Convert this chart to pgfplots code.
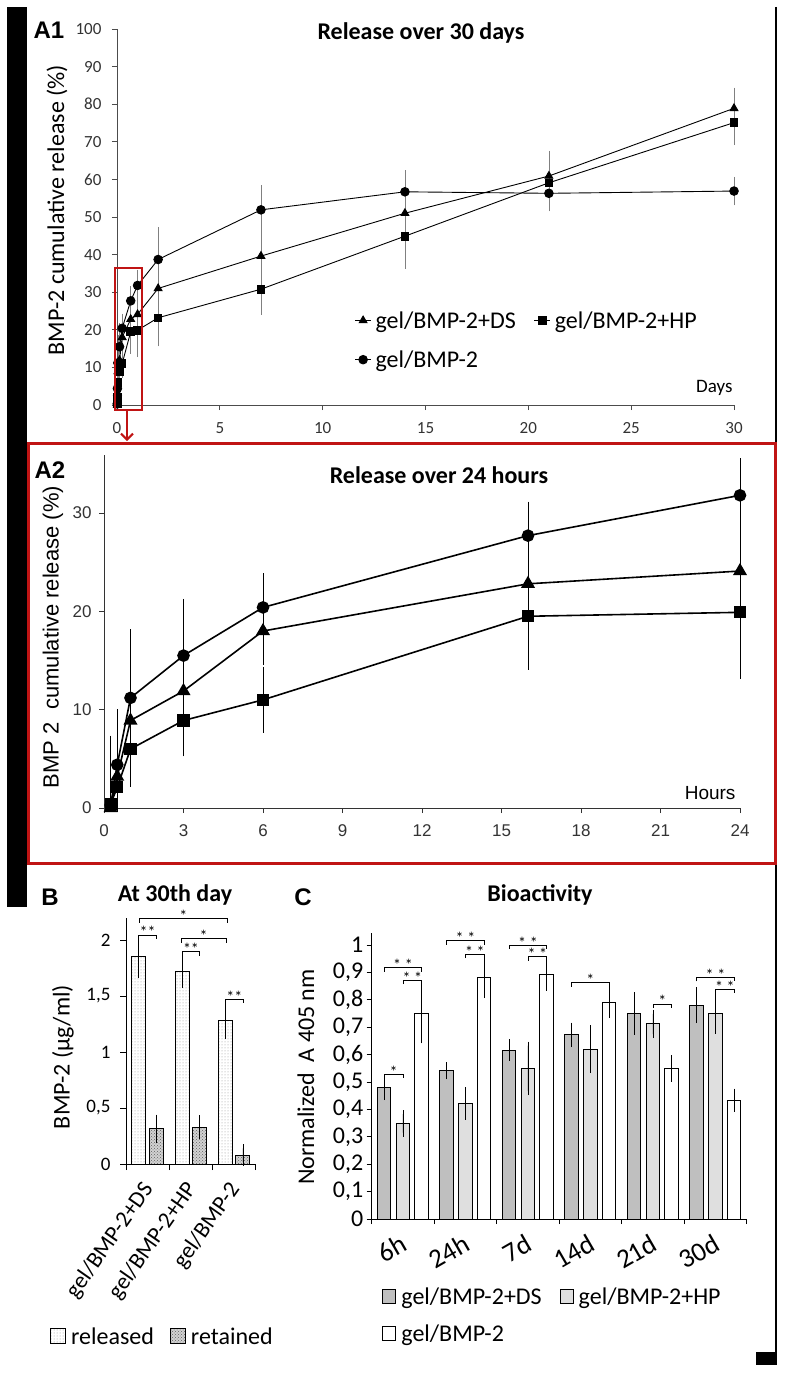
\documentclass[border=0pt]{standalone}
\usepackage{pgfplots}
\pgfplotsset{compat=1.18}
\usepackage{fontspec}
\setmainfont{Carlito}
\newfontfamily\arialf{Liberation Sans}
\usetikzlibrary{arrows.meta,calc,patterns}
\newcommand{\fs}[1]{\fontsize{#1}{#1}\selectfont}
\newcommand{\brk}[4]{%
  \draw[black, line width=0.9pt] ([yshift=-4pt]axis cs:#1,#3) -- (axis cs:#1,#3) -- (axis cs:#2,#3) -- ([yshift=-4pt]axis cs:#2,#3);
  \node[font=\fs{16}, inner sep=0pt, anchor=base, yshift=-3pt] at ($(axis cs:#1,#3)!0.5!(axis cs:#2,#3)$) {#4};}
\definecolor{frred}{RGB}{192,20,20}
\tikzset{
  relfill/.style={fill=white, postaction={pattern=dots, pattern color=gray!85}},
  retfill/.style={fill=gray!35, postaction={pattern=crosshatch dots, pattern color=gray!75!black}},
}
\begin{document}
\begin{tikzpicture}
\useasboundingbox (0pt,0pt) rectangle (784pt,-1378pt);
% frame decorations
\fill[black] (7pt,-7pt) rectangle (27pt,-907pt);
\draw[black, line width=2pt] (776pt,-7pt) -- (776pt,-1353pt);
\fill[black] (756pt,-1352pt) rectangle (777pt,-1365pt);

% ---------------- A1 ----------------
\begin{axis}[
  at={(117pt,-405pt)}, anchor=south west, scale only axis,
  width=617pt, height=376pt,
  xmin=0, xmax=30, ymin=0, ymax=100,
  axis x line*=bottom, axis y line*=left,
  axis line style={-, black!70, line width=0.8pt},
  tick align=outside, major tick length=5pt,
  tick style={black!70, line width=0.8pt},
  xtick={0,5,10,15,20,25,30}, xticklabels={0,5,10,15,20,25,30},
  ytick={0,10,20,30,40,50,60,70,80,90,100},
  yticklabels={0,10,20,30,40,50,60,70,80,90,100},
  tick label style={font=\fs{17}, text=black!80},
  xticklabel style={yshift=-9pt}, yticklabel style={xshift=-7pt},
  clip=false,
  legend style={at={(0.38,0.26)}, anchor=north west, draw=none, fill=none,
    font=\fs{24}, legend columns=2, legend cell align=left,
    /tikz/every odd column/.append style={column sep=2pt},
    /tikz/every even column/.append style={column sep=16pt}, row sep=17pt},
  legend image code/.code={\draw[mark repeat=2,mark phase=2,#1] plot coordinates {(0pt,0pt) (8pt,0pt) (16pt,0pt)};},
  every axis plot/.append style={black, line width=0.9pt, mark options={solid},
    error bars/y dir=both, error bars/y explicit,
    error bars/error bar style={gray, line width=0.7pt},
    error bars/error mark options={gray, line width=0.7pt, mark size=3pt}},
]
\addplot[mark=triangle*, mark size=4.5pt] table[x=x,y=y,y error plus=ep,y error minus=em] {
x y ep em
0.0104 0 3.8 0
0.0208 3.2 2.4 2.4
0.0417 8.9 6.4 6.4
0.125 11.9 4.4 4.4
0.25 18.0 3.1 3.1
0.667 22.8 2.0 2.0
1 24.1 5.4 5.4
2 31.0 6 6
7 39.6 6.4 6.4
14 51.0 4 4
21 60.9 5.9 5.9
30 78.9 4.7 4.7
};
\addlegendentry{gel/BMP-2+DS}
\addplot[mark=square*, mark size=3.8pt] table[x=x,y=y,y error plus=ep,y error minus=em] {
x y ep em
0.0104 0.4 2.2 0.4
0.0208 2.1 1.5 1.5
0.0417 6.0 1.3 1.3
0.125 8.9 3.3 3.3
0.25 11.0 3.0 3.0
0.667 19.5 5.1 5.1
1 19.9 6.4 6.4
2 23.2 6.8 6.8
7 30.8 6.0 6.0
14 44.9 7.9 7.9
21 59.1 4 4
30 75.1 5.2 5.2
};
\addlegendentry{gel/BMP-2+HP}
\addplot[mark=*, mark size=4.3pt] table[x=x,y=y,y error plus=ep,y error minus=em] {
x y ep em
0.0104 0.3 6.7 0.3
0.0208 4.4 5.3 4.4
0.0417 11.2 6.6 6.6
0.125 15.5 5.4 5.4
0.25 20.4 3.1 3.1
0.667 27.7 3.1 3.1
1 31.8 3.4 3.4
2 38.7 7.8 7.8
7 51.9 5.7 5.7
14 56.7 4.9 4.9
21 56.3 4 4
30 56.9 3 3
};
\addlegendentry{gel/BMP-2}
\end{axis}
\node[font=\arialf\bfseries\fs{24}] at (49pt,-30pt) {A1};
\node[font=\bfseries\fs{24}] at (421pt,-33pt) {Release over 30 days};
\node[font=\fs{24}, rotate=90] at (57pt,-210pt) {BMP-2 cumulative release (\%)};
\node[font=\fs{19}, anchor=east] at (736pt,-388pt) {Days};
\draw[frred, line width=2pt] (115pt,-268pt) rectangle (142pt,-410pt);
\draw[frred, line width=2pt, -{Straight Barb[length=6pt,width=12pt]}] (127pt,-410pt) -- (127pt,-441pt);

% ---------------- A2 ----------------
\begin{axis}[
  at={(104pt,-808pt)}, anchor=south west, scale only axis,
  width=636pt, height=353pt,
  xmin=0, xmax=24, ymin=0, ymax=35.9,
  axis x line*=bottom, axis y line*=left,
  axis line style={-, black!80, line width=0.8pt},
  tick align=outside, major tick length=5pt,
  tick style={black!80, line width=0.8pt},
  xtick={0,3,6,9,12,15,18,21,24}, xticklabels={0,3,6,9,12,15,18,21,24},
  ytick={0,10,20,30}, yticklabels={0,10,20,30},
  tick label style={font=\arialf\fs{17}, text=black!80},
  xticklabel style={yshift=-8pt}, yticklabel style={xshift=-4pt},
  clip=false,
  every axis plot/.append style={black, line width=1.6pt, mark options={solid},
    error bars/y dir=both, error bars/y explicit,
    error bars/error bar style={black, line width=0.8pt},
    error bars/error mark options={black, line width=0.8pt, mark size=3.5pt}},
]
\addplot[mark=triangle*, mark size=6.5pt] table[x=x,y=y,y error plus=ep,y error minus=em] {
x y ep em
0.25 0 3.8 0
0.5 3.2 2.4 2.4
1 8.9 6.4 6.4
3 11.9 4.4 4.4
6 18.0 3.1 3.1
16 22.8 2.0 2.0
24 24.1 5.4 5.4
};
\addplot[mark=square*, mark size=5.3pt] table[x=x,y=y,y error plus=ep,y error minus=em] {
x y ep em
0.25 0.4 2.2 0.4
0.5 2.1 1.5 1.5
1 6.0 1.3 1.3
3 8.9 3.3 3.3
6 11.0 3.0 3.0
16 19.5 5.1 5.1
24 19.9 6.4 6.4
};
\addplot[mark=*, mark size=5.5pt] table[x=x,y=y,y error plus=ep,y error minus=em] {
x y ep em
0.25 0.3 6.7 0.3
0.5 4.4 5.3 4.4
1 11.2 6.6 6.6
3 15.5 5.4 5.4
6 20.4 3.1 3.1
16 27.7 3.1 3.1
24 31.8 3.4 3.4
};
\end{axis}
\node[font=\arialf\bfseries\fs{24}] at (50pt,-470pt) {A2};
\node[font=\bfseries\fs{24}] at (439pt,-475pt) {Release over 24 hours};
\node[font=\arialf\fs{22}, rotate=90] at (53pt,-637pt) {BMP 2\ \ cumulative release (\%)};
\node[font=\arialf\fs{19}, anchor=east] at (739pt,-793pt) {Hours};
\draw[frred, line width=3pt] (28.5pt,-443pt) rectangle (775pt,-863pt);

% ---------------- B ----------------
\begin{axis}[
  at={(126pt,-1164pt)}, anchor=south west, scale only axis,
  width=130pt, height=246.4pt,
  xmin=-0.5, xmax=2.5, ymin=0, ymax=2.2,
  axis x line*=bottom, axis y line*=left,
  axis line style={-, black, line width=1pt},
  tick align=outside, major tick length=6pt,
  tick style={black, line width=1pt},
  xtick={-0.5,0.5,1.5,2.5}, xticklabels={{},{},{},{}},
  extra x ticks={0,1,2},
  extra x tick labels={gel/BMP-2+DS,gel/BMP-2+HP,gel/BMP-2},
  extra x tick style={major tick length=0pt,
    tick label style={xshift=-8pt, yshift=-11pt, rotate=55, anchor=north east, font=\fs{23}}},
  ytick={0,0.5,1,1.5,2}, yticklabels={0,{0,5},1,{1,5},2},
  tick label style={font=\fs{19}},
  yticklabel style={xshift=-6pt},
  clip=false,
  legend style={at={(0.28,-0.70)}, anchor=center, draw=none, fill=none,
    font=\fs{24}, legend columns=2, legend cell align=left,
    /tikz/every odd column/.append style={column sep=3pt},
    /tikz/every even column/.append style={column sep=14pt}},
  every axis plot/.append style={
    error bars/y dir=both, error bars/y explicit,
    error bars/error bar style={black, line width=0.9pt},
    error bars/error mark options={black, line width=0.9pt, mark size=4pt}},
]
\addplot[ybar, bar width=14pt, bar shift=0pt, relfill, draw=black, line width=1pt, forget plot]
  table[x=x,y=y,y error=e] {
x y e
-0.207 1.85 0.15
0.793 1.72 0.11
1.793 1.28 0.13
};
\addplot[ybar, bar width=14pt, bar shift=0pt, retfill, draw=black, line width=1pt, forget plot]
  table[x=x,y=y,y error=e] {
x y e
0.2 0.315 0.09
1.2 0.33 0.07
2.2 0.08 0.06
};
\addlegendimage{legend image code/.code={\draw[black, line width=1pt, relfill] (0pt,-7pt) rectangle (15pt,8pt);}}
\addlegendentry{released}
\addlegendimage{legend image code/.code={\draw[black, line width=1pt, retfill] (0pt,-7pt) rectangle (15pt,8pt);}}
\addlegendentry{retained}
\brk{-0.21}{0.21}{2.045}{**}
\brk{-0.2}{1.85}{2.19}{*}
\brk{0.77}{1.81}{2.01}{*}
\brk{0.8}{1.2}{1.896}{**}
\brk{1.8}{2.2}{1.473}{**}
\end{axis}
\node[font=\arialf\bfseries\fs{24}] at (50pt,-897pt) {B};
\node[font=\bfseries\fs{24}] at (175pt,-895pt) {At 30th day};
\node[font=\fs{24}, rotate=90] at (63pt,-1057pt) {BMP-2 (µg/ml)};

% ---------------- C ----------------
\begin{axis}[
  at={(371.7pt,-1219pt)}, anchor=south west, scale only axis,
  width=375pt, height=285.7pt,
  xmin=-0.5, xmax=5.5, ymin=0, ymax=1.043,
  axis x line*=bottom, axis y line*=left,
  axis line style={-, black, line width=1pt},
  tick align=outside, major tick length=5pt,
  tick style={black, line width=1pt},
  xtick={-0.5,0.5,1.5,2.5,3.5,4.5,5.5}, xticklabels={{},{},{},{},{},{},{}},
  extra x ticks={0,1,2,3,4,5},
  extra x tick labels={6h,24h,7d,14d,21d,30d},
  extra x tick style={major tick length=0pt,
    tick label style={xshift=-2pt, yshift=-9pt, rotate=30, anchor=north east, font=\fs{27}}},
  ytick={0,0.1,0.2,0.3,0.4,0.5,0.6,0.7,0.8,0.9,1},
  yticklabels={0,{0,1},{0,2},{0,3},{0,4},{0,5},{0,6},{0,7},{0,8},{0,9},1},
  tick label style={font=\fs{24}},
  clip=false,
  legend style={at={(0.02,-0.225)}, anchor=north west, draw=none, fill=none,
    font=\fs{24}, legend columns=2, legend cell align=left,
    /tikz/every odd column/.append style={column sep=3pt},
    /tikz/every even column/.append style={column sep=16pt}, row sep=15pt},
  every axis plot/.append style={
    error bars/y dir=both, error bars/y explicit,
    error bars/error bar style={black, line width=0.9pt},
    error bars/error mark options={black, line width=0.9pt, mark size=4pt}},
]
\addplot[ybar, bar width=13.5pt, bar shift=0pt, fill=gray!50, draw=black, line width=1pt, forget plot]
  table[x=x,y=y,y error=e] {
x y e
-0.3 0.479 0.03
0.7 0.541 0.017
1.7 0.617 0.025
2.7 0.672 0.03
3.7 0.751 0.063
4.7 0.781 0.051
};
\addplot[ybar, bar width=13.5pt, bar shift=0pt, fill=gray!25, draw=black, line width=1pt, forget plot]
  table[x=x,y=y,y error=e] {
x y e
0 0.349 0.034
1 0.422 0.045
2 0.55 0.083
3 0.62 0.073
4 0.712 0.037
5 0.751 0.06
};
\addplot[ybar, bar width=13.5pt, bar shift=0pt, fill=white, draw=black, line width=1pt, forget plot]
  table[x=x,y=y,y error=e] {
x y e
0.3 0.751 0.095
1.3 0.881 0.06
2.3 0.891 0.043
3.3 0.79 0.042
4.3 0.55 0.034
5.3 0.434 0.027
};
\addlegendimage{legend image code/.code={\draw[black, line width=1pt, fill=gray!50] (0pt,-7pt) rectangle (13pt,7pt);}}
\addlegendentry{gel/BMP-2+DS}
\addlegendimage{legend image code/.code={\draw[black, line width=1pt, fill=gray!25] (0pt,-7pt) rectangle (13pt,7pt);}}
\addlegendentry{gel/BMP-2+HP}
\addlegendimage{legend image code/.code={\draw[black, line width=1pt, fill=white] (0pt,-7pt) rectangle (13pt,7pt);}}
\addlegendentry{gel/BMP-2}
\brk{-0.3}{0}{0.529}{*}
\brk{-0.3}{0.3}{0.918}{* *}
\brk{0}{0.3}{0.872}{* *}
\brk{0.7}{1.3}{1.016}{* *}
\brk{1}{1.3}{0.967}{* *}
\brk{1.7}{2.3}{1.0}{* *}
\brk{2}{2.3}{0.957}{* *}
\brk{2.7}{3.3}{0.863}{*}
\brk{4}{4.3}{0.785}{*}
\brk{4.7}{5.3}{0.882}{* *}
\brk{5}{5.3}{0.838}{* *}
\end{axis}
\node[font=\arialf\bfseries\fs{24}] at (303pt,-897pt) {C};
\node[font=\bfseries\fs{24}] at (540pt,-895pt) {Bioactivity};
\node[font=\fs{24}, rotate=90] at (306pt,-1077pt) {Normalized\ \ A 405 nm};
\end{tikzpicture}
\end{document}
